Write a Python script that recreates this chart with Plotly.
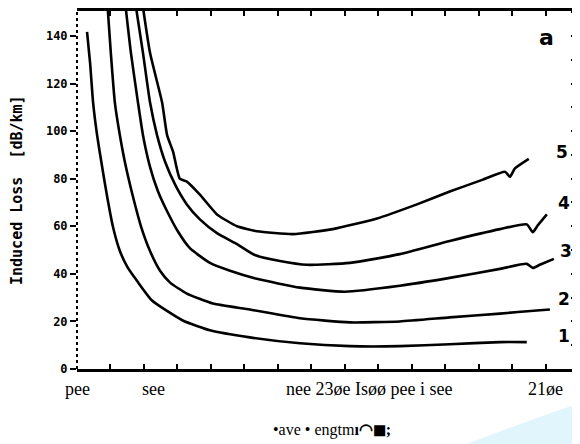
import plotly.graph_objects as go

# ---- data (wavelength in nm, induced loss in dB/km) ----
c1_x = [830, 839, 848, 860, 875, 890, 907, 928, 952, 979, 1024, 1116, 1197, 1316, 1466, 1615, 1764, 1913, 2063, 2143]
c1_y = [141.7, 128.8, 112.1, 98.3, 85.0, 72.5, 60.0, 49.6, 42.5, 37.1, 28.8, 20.4, 16.3, 13.3, 10.8, 9.6, 9.6, 10.4, 11.3, 11.3]

c2_x = [890, 901, 913, 928, 946, 967, 991, 1018, 1048, 1078, 1128, 1206, 1316, 1466, 1615, 1764, 1913, 2063, 2173, 2212]
c2_y = [155, 132.9, 112.1, 98.3, 85.0, 72.5, 60.0, 49.6, 41.3, 36.3, 31.7, 27.5, 25.0, 21.3, 19.6, 20.0, 21.7, 23.3, 24.6, 25.0]

c3_x = [943, 961, 982, 997, 1018, 1042, 1069, 1101, 1137, 1197, 1257, 1337, 1466, 1600, 1764, 1913, 2063, 2143, 2161, 2182, 2224]
c3_y = [155, 132.9, 112.1, 98.3, 85.0, 74.6, 66.3, 57.9, 50.8, 44.6, 41.3, 37.9, 34.2, 32.5, 35.0, 38.3, 42.1, 44.2, 42.5, 43.8, 46.3]

c4_x = [973, 997, 1018, 1039, 1063, 1093, 1128, 1167, 1218, 1278, 1331, 1406, 1487, 1615, 1764, 1913, 2063, 2143, 2161, 2176, 2203]
c4_y = [155, 132.9, 112.1, 98.3, 87.1, 77.5, 69.2, 62.9, 57.1, 52.5, 47.9, 45.4, 43.8, 44.6, 48.3, 53.8, 58.8, 60.8, 57.5, 60.4, 65.0]

c5_x = [994, 1018, 1054, 1069, 1087, 1107, 1128, 1167, 1218, 1278, 1337, 1445, 1564, 1696, 1815, 1913, 2012, 2078, 2093, 2107, 2149]
c5_y = [155, 132.9, 112.1, 98.3, 91.3, 80.0, 78.8, 73.3, 65.0, 60.0, 57.9, 56.7, 58.8, 63.3, 69.2, 74.6, 79.6, 82.9, 80.8, 84.2, 88.3]

curves = [(c1_x, c1_y), (c2_x, c2_y), (c3_x, c3_y), (c4_x, c4_y), (c5_x, c5_y)]
curve_labels = ["1", "2", "3", "4", "5"]
label_x = [2254, 2254, 2260, 2254, 2248]
label_y = [13.8, 29.6, 49.6, 69.6, 91.3]

y_tickvals = [0, 20, 40, 60, 80, 100, 120, 140]
y_ticktext = ["0", "20", "40", "60", "80", "100", "120", "140"]

x_label_pos = [800, 1027, 1672, 2200]
x_label_text = ["pee", "see", "nee 23øe Isøø pee i see", "21øe"]

fig = go.Figure()
for (xs, ys) in curves:
    fig.add_trace(go.Scatter(x=xs, y=ys, mode="lines",
                             line=dict(color="black", width=2.6, shape="spline", smoothing=0.5),
                             showlegend=False, hoverinfo="skip"))
# empty trace to activate the right-hand tick axis
fig.add_trace(go.Scatter(x=[None], y=[None], yaxis="y2", showlegend=False))

for t, xv, yv in zip(curve_labels, label_x, label_y):
    fig.add_annotation(x=xv, y=yv, text="<b>" + t + "</b>", showarrow=False,
                       font=dict(family="DejaVu Sans", size=17, color="black"))
fig.add_annotation(x=2203, y=139.5, text="<b>a</b>", showarrow=False,
                   font=dict(family="DejaVu Sans", size=22, color="black"))

for t, xv in zip(x_label_text, x_label_pos):
    fig.add_annotation(x=xv, xref="x", y=0, yref="paper", yshift=-20, text=t,
                       showarrow=False, yanchor="middle",
                       font=dict(family="Liberation Serif", size=18, color="black"))

fig.add_annotation(x=1560, xref="x", y=0, yref="paper", yshift=-61,
                   text="•ave • engtm<b>ı◠◼;</b>", showarrow=False, yanchor="middle",
                   font=dict(family="Liberation Serif", size=16, color="black"))

fig.add_annotation(x=0, xref="paper", xshift=-60, xanchor="center", y=0.5, yref="paper",
                   text="<b>Induced Loss  [dB/km]</b>", textangle=-90, showarrow=False,
                   font=dict(family="DejaVu Sans Mono", size=15, color="black"))

# dotted left/right borders like the scan
fig.add_shape(type="line", xref="paper", yref="paper", x0=0, x1=0, y0=0, y1=1,
              line=dict(color="black", width=2, dash="dot"))
fig.add_shape(type="line", xref="paper", yref="paper", x0=1, x1=1, y0=0, y1=1,
              line=dict(color="black", width=2, dash="dot"))

# faint blue watermark in bottom-right corner
fig.add_shape(type="path", xref="paper", yref="paper",
              path="M 0.78 -0.21 Q 0.95 -0.12 1.02 -0.09 L 1.02 -0.21 Z",
              fillcolor="rgba(200,236,250,0.55)", line=dict(width=0), layer="below")

fig.update_layout(
    width=571, height=436,
    margin=dict(l=69, r=3, t=0, b=75),
    paper_bgcolor="white", plot_bgcolor="white",
    xaxis=dict(range=[800, 2290], showgrid=False, zeroline=False,
               showline=True, mirror="ticks", linecolor="black", linewidth=2.5,
               ticks="inside", tick0=900, dtick=100, ticklen=5, tickwidth=1.5,
               tickcolor="black", showticklabels=False),
    yaxis=dict(range=[0, 150.5], showgrid=False, zeroline=False, showline=False,
               ticks="outside", ticklen=6, tickwidth=2, tickcolor="black",
               tickvals=y_tickvals, ticktext=["<b>" + t + "</b>" for t in y_ticktext],
               tickfont=dict(family="DejaVu Sans Mono", size=12, color="black")),
    yaxis2=dict(range=[0, 150.5], overlaying="y", side="right", showgrid=False,
                zeroline=False, showline=False, ticks="inside", dtick=10, ticklen=5,
                tickwidth=1.5, tickcolor="black", showticklabels=False),
)

fig.write_html("out.html")
